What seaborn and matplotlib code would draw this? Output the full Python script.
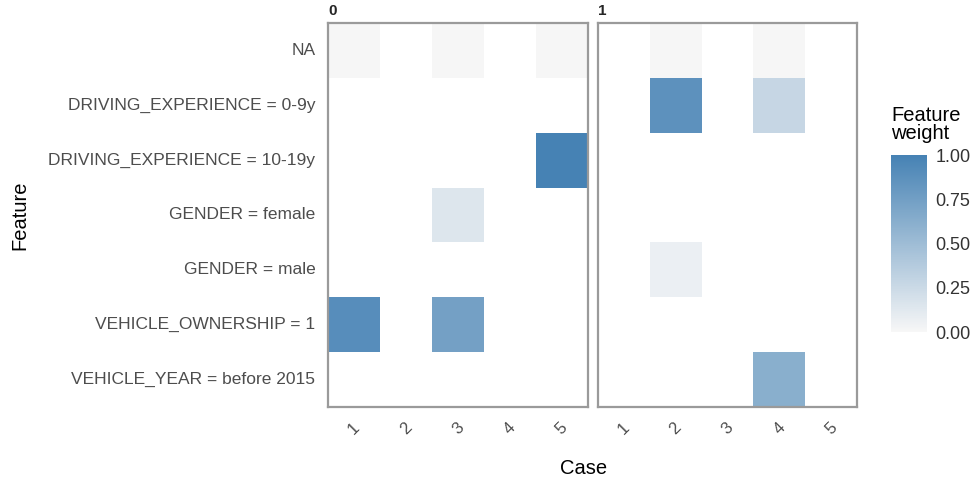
import numpy as np
import pandas as pd
import matplotlib
matplotlib.use("Agg")
import matplotlib.pyplot as plt
import seaborn as sns
from matplotlib.colors import LinearSegmentedColormap

sns.set_theme(style="white")
plt.rcParams['font.family'] = ['Liberation Sans', 'DejaVu Sans']

features = ["NA", "DRIVING_EXPERIENCE = 0-9y", "DRIVING_EXPERIENCE = 10-19y",
            "GENDER = female", "GENDER = male", "VEHICLE_OWNERSHIP = 1",
            "VEHICLE_YEAR = before 2015"]
cases = [1, 2, 3, 4, 5]
panels = ["0", "1"]

# panel "0"
p0_case = [1, 3, 5, 5, 3, 1, 3]
p0_feature = ["NA", "NA", "NA", "DRIVING_EXPERIENCE = 10-19y", "GENDER = female",
              "VEHICLE_OWNERSHIP = 1", "VEHICLE_OWNERSHIP = 1"]
p0_weight = [0.01, 0.01, 0.01, 1.00, 0.15, 0.90, 0.74]

# panel "1"
p1_case = [2, 4, 2, 4, 2, 4]
p1_feature = ["NA", "NA", "DRIVING_EXPERIENCE = 0-9y", "DRIVING_EXPERIENCE = 0-9y",
              "GENDER = male", "VEHICLE_YEAR = before 2015"]
p1_weight = [0.01, 0.01, 0.87, 0.28, 0.07, 0.62]

cmap = LinearSegmentedColormap.from_list("lime", ["#f7f7f7", "#4682b4"])

fig = plt.figure(figsize=(9.76, 4.82), dpi=100)
ax0 = fig.add_axes([0.336, 0.1556, 0.2664, 0.7967])
ax1 = fig.add_axes([0.6127, 0.1556, 0.2654, 0.7967])
cax = fig.add_axes([0.913, 0.311, 0.037, 0.367])

data = [(p0_case, p0_feature, p0_weight), (p1_case, p1_feature, p1_weight)]
for i, (ax, (c, f, w)) in enumerate(zip([ax0, ax1], data)):
    df = pd.DataFrame({"Case": c, "Feature": f, "weight": w})
    mat = df.pivot(index="Feature", columns="Case", values="weight")
    mat = mat.reindex(index=features, columns=cases)
    sns.heatmap(mat, ax=ax, cmap=cmap, vmin=0, vmax=1,
                cbar=(i == 0), cbar_ax=cax if i == 0 else None,
                linewidths=0)
    for s in ax.spines.values():
        s.set_visible(True)
        s.set_color("#9a9a9a")
        s.set_linewidth(1.6)
    ax.set_xlabel("")
    ax.set_ylabel("")
    ax.tick_params(axis="y", length=0, labelsize=12.5, labelcolor="#4d4d4d", pad=9)
    ax.tick_params(axis="x", length=0, labelsize=12, labelcolor="#4d4d4d", pad=9)
    for lab in ax.get_xticklabels():
        lab.set_rotation(45)
        lab.set_ha("center")
    if i == 0:
        for lab in ax.get_yticklabels():
            lab.set_rotation(0)
    else:
        ax.set_yticklabels([])
    ax.text(0.0, 1.012, panels[i], transform=ax.transAxes, fontsize=11,
            fontweight="bold", ha="left", va="bottom")

cb = ax0.collections[0].colorbar
cb.outline.set_visible(False)
cb.set_ticks([0, 0.25, 0.5, 0.75, 1.0])
cb.set_ticklabels(["0.00", "0.25", "0.50", "0.75", "1.00"])
cax.tick_params(left=True, right=True, direction="in", color="white",
                length=4, width=1, labelsize=13, labelcolor="#333333", pad=6)
cax.text(0.0, 1.07, "Feature\nweight", transform=cax.transAxes, fontsize=14.5,
         ha="left", va="bottom", linespacing=0.95, color="black")

fig.text(0.5975, 0.028, "Case", fontsize=14.5, ha="center", va="center", color="black")
fig.text(0.02, 0.553, "Feature", fontsize=14.5, ha="center", va="center",
         rotation=90, color="black")

fig.savefig("out.png", dpi=100)
